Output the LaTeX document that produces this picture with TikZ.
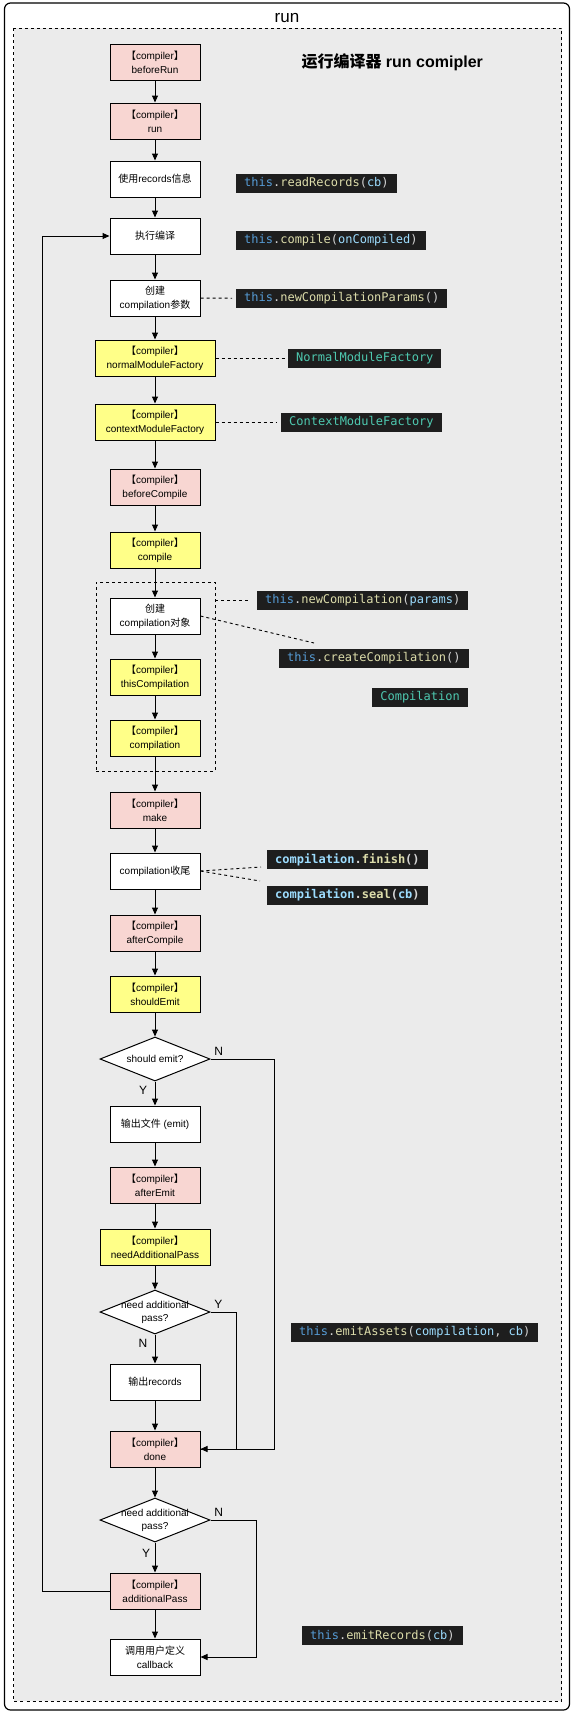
\documentclass[tikz,border=0pt]{standalone}
\usepackage{fontspec}
\setmainfont{Liberation Sans}
\newfontfamily\cjk{Noto Sans CJK SC}
\newfontfamily\cjkbr[RawFeature=+halt]{Noto Sans CJK SC}
\newfontfamily\mono{DejaVu Sans Mono}
\usetikzlibrary{shapes.geometric,arrows.meta}

\definecolor{hookred}{HTML}{F8D6D2}
\definecolor{hookyel}{HTML}{FFFF88}
\definecolor{panel}{HTML}{EBEBEB}
\definecolor{codebg}{HTML}{1E1E1E}
\definecolor{codefg}{HTML}{D4D4D4}
\definecolor{kwblue}{HTML}{569CD6}
\definecolor{fnyel}{HTML}{DCDCAA}
\definecolor{argblue}{HTML}{9CDCFE}
\definecolor{clsgreen}{HTML}{4EC9B0}

\newcommand{\hk}{{\cjkbr 【}compiler{\cjkbr 】}}
\newcommand{\jsthis}{\textcolor{kwblue}{this}}
\newcommand{\jsfn}[1]{\textcolor{fnyel}{#1}}
\newcommand{\jsarg}[1]{\textcolor{argblue}{#1}}
\newcommand{\jscls}[1]{\textcolor{clsgreen}{#1}}

\begin{document}
\begin{tikzpicture}[x=1pt, y=-1pt,
  stage/.style={draw, line width=1pt, minimum width=90pt, minimum height=36pt, inner sep=0pt, align=center, font=\fontsize{10}{14}\selectfont},
  pinkhook/.style={stage, fill=hookred},
  yellowhook/.style={stage, fill=hookyel},
  plainstage/.style={stage, fill=white},
  decide/.style={diamond, draw, fill=white, line width=1pt, minimum width=110pt, minimum height=44pt, inner xsep=-12pt, inner ysep=-8pt, shape aspect=2.5, align=center, font=\fontsize{10}{13}\selectfont},
  codebox/.style={fill=codebg, text=codefg, font=\mono\fontsize{12}{14}\selectfont, inner xsep=8pt, inner ysep=0pt, minimum height=19pt, anchor=west},
  arr/.style={-{Triangle[length=7pt,width=6pt]}, line width=1pt},
  dashlink/.style={dashed, line width=0.9pt},
  yn/.style={font=\fontsize{12}{14}\selectfont}]

\useasboundingbox (0,0) rectangle (574,1716);

% Frame

\draw [line width=1.2pt, rounded corners=6pt] (4.5,3) rectangle (569.5,1710);
\draw [dashed, line width=0.9pt, fill=panel] (13.5,28) rectangle (561.5,1701);

\node [font=\fontsize{17}{20}\selectfont] (runtitle) at (287,18.5) {run};
\node [anchor=west, font=\bfseries\fontsize{16}{18}\selectfont] (maintitle) at (298,62) {{\cjk 运行编译器} run comipler};

% Steps

\node [pinkhook] (beforerun) at (155,62) {\hk\\beforeRun};
\node [pinkhook] (run) at (155,121) {\hk\\run};
\node [plainstage] (readrec) at (155,179) {{\cjk 使用}records{\cjk 信息}};
\node [plainstage] (exec) at (155,236) {{\cjk 执行编译}};
\node [plainstage] (params) at (155,298) {{\cjk 创建}\\compilation{\cjk 参数}};
\node [yellowhook, minimum width=120pt] (nmf) at (155,358) {\hk\\normalModuleFactory};
\node [yellowhook, minimum width=120pt] (cmf) at (155,422) {\hk\\contextModuleFactory};
\node [pinkhook] (beforecompile) at (155,487) {\hk\\beforeCompile};
\node [yellowhook] (compile) at (155,550) {\hk\\compile};

\node [draw, dashed, line width=0.9pt, minimum width=119pt, minimum height=189pt] (grp) at (155.5,676.5) {};
\node [plainstage] (newcomp) at (155,616) {{\cjk 创建}\\compilation{\cjk 对象}};
\node [yellowhook] (thiscomp) at (155,677) {\hk\\thisCompilation};
\node [yellowhook] (comp) at (155,738) {\hk\\compilation};

\node [pinkhook] (make) at (155,810) {\hk\\make};
\node [plainstage] (finishup) at (155,871) {compilation{\cjk 收尾}};
\node [pinkhook] (aftercompile) at (155,933) {\hk\\afterCompile};
\node [yellowhook] (shouldemit) at (155,994) {\hk\\shouldEmit};
\node [decide] (q1) at (155,1059) {should emit?};
\node [plainstage] (emit) at (155,1124) {{\cjk 输出文件} (emit)};
\node [pinkhook] (afteremit) at (155,1185) {\hk\\afterEmit};
\node [yellowhook, minimum width=110pt] (needpass) at (155,1247) {\hk\\needAdditionalPass};
\node [decide] (q2) at (155,1312) {need additional\\pass?};
\node [plainstage] (emitrec) at (155,1382) {{\cjk 输出}records};
\node [pinkhook] (done) at (155,1449) {\hk\\done};
\node [decide] (q3) at (155,1520) {need additional\\pass?};
\node [pinkhook] (addpass) at (155,1591) {\hk\\additionalPass};
\node [plainstage] (callback) at (155,1657) {{\cjk 调用用户定义}\\callback};

% Code

\node [codebox] (rr) at (236,183) {\jsthis.\jsfn{readRecords}(\jsarg{cb})};
\node [codebox] (cc) at (236,240.5) {\jsthis.\jsfn{compile}(\jsarg{onCompiled})};
\node [codebox] (ncp) at (236,298.5) {\jsthis.\jsfn{newCompilationParams}()};
\node [codebox] (nmfcls) at (288,358) {\jscls{NormalModuleFactory}};
\node [codebox] (cmfcls) at (281,422) {\jscls{ContextModuleFactory}};
\node [codebox] (nc) at (257,600.5) {\jsthis.\jsfn{newCompilation}(\jsarg{params})};
\node [codebox] (crc) at (279,658.5) {\jsthis.\jsfn{createCompilation}()};
\node [codebox, anchor=east] (compcls) at (468,697.5) {\jscls{Compilation}};
\node [codebox, font=\mono\bfseries\fontsize{12}{14}\selectfont] (fin) at (267,859.5) {\jsarg{compilation}.\jsfn{finish}()};
\node [codebox, font=\mono\bfseries\fontsize{12}{14}\selectfont] (sl) at (267,895) {\jsarg{compilation}.\jsfn{seal}(\jsarg{cb})};
\node [codebox] (ea) at (291,1332) {\jsthis.\jsfn{emitAssets}(\jsarg{compilation}, \jsarg{cb})};
\node [codebox] (er) at (302,1635.5) {\jsthis.\jsfn{emitRecords}(\jsarg{cb})};

% Flow

\draw [arr] (beforerun) -- (run);
\draw [arr] (run) -- (readrec);
\draw [arr] (readrec) -- (exec);
\draw [arr] (exec) -- (params);
\draw [arr] (params) -- (nmf);
\draw [arr] (nmf) -- (cmf);
\draw [arr] (cmf) -- (beforecompile);
\draw [arr] (beforecompile) -- (compile);
\draw [arr] (compile) -- (newcomp);
\draw [arr] (newcomp) -- (thiscomp);
\draw [arr] (thiscomp) -- (comp);
\draw [arr] (comp) -- (make);
\draw [arr] (make) -- (finishup);
\draw [arr] (finishup) -- (aftercompile);
\draw [arr] (aftercompile) -- (shouldemit);
\draw [arr] (shouldemit) -- (q1);
\draw [arr] (q1) -- node[yn, left=4pt, pos=0.35] {Y} (emit);
\draw [arr] (emit) -- (afteremit);
\draw [arr] (afteremit) -- (needpass);
\draw [arr] (needpass) -- (q2);
\draw [arr] (q2) -- node[yn, left=4pt, pos=0.32] {N} (emitrec);
\draw [arr] (emitrec) -- (done);
\draw [arr] (done) -- (q3);
\draw [arr] (q3) -- node[yn, left=1pt, pos=0.35] {Y} (addpass);
\draw [arr] (addpass) -- (callback);

%Branches
\draw [line width=1pt] (q2.east) node[yn, above right] {Y} -- ++(26,0) |- (done.east);
\draw [arr] (q1.east) node[yn, above right] {N} -- ++(64,0) |- (done.east);
\draw [arr] (q3.east) node[yn, above right] {N} -- ++(46,0) |- (callback.east);
\draw [arr] (addpass.west) -- ++(-67,0) |- (exec.west);

% Links to code
\coordinate (crcend) at (314,643);
\coordinate (finend) at (261,867);
\coordinate (sealend) at (260,881);

\draw [dashlink, shorten >=4pt] (params) -- (ncp);
\draw [dashlink, shorten >=2pt] (nmf) -- (nmfcls);
\draw [dashlink, shorten >=4pt] (cmf) -- (cmfcls);
\draw [dashlink, shorten >=6pt] (grp.east |- nc.west) -- (nc.west);
\draw [dashlink] (newcomp.east) -- (crcend);
\draw [dashlink] (finishup.east) -- (finend);
\draw [dashlink] (finishup.east) -- (sealend);
\end{tikzpicture}
\end{document}
